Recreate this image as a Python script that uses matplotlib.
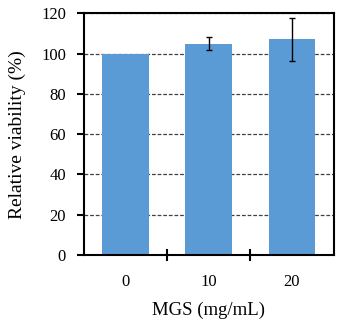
import matplotlib
matplotlib.use('Agg')
import matplotlib.pyplot as plt

plt.rcParams['font.family'] = ['Liberation Serif', 'DejaVu Serif']

categories = ['0', '10', '20']
viability = [100.0, 104.8, 107.2]
errors = [0.0, 3.2, 10.7]

fig = plt.figure(figsize=(3.38, 3.24), dpi=100)
ax = fig.add_axes([84 / 338, 1 - 255 / 324, 249.5 / 338, 241.7 / 324])

x = list(range(len(categories)))
ax.bar(x, viability, width=0.56, color='#5B9BD5', zorder=2)
ax.errorbar(x[1:], viability[1:], yerr=errors[1:], fmt='none', ecolor='black',
            elinewidth=1, capsize=2.5, capthick=1, zorder=3)

ax.set_xlim(-0.5, 2.5)
ax.set_ylim(0, 120)
ax.set_yticks(range(0, 121, 20))
ax.yaxis.grid(True, linestyle=(0, (3, 1.5)), color='#404040', linewidth=0.9, zorder=1)

ax.set_xticks(x)
ax.set_xticklabels(categories)
ax.tick_params(axis='x', length=0, labelsize=12, pad=14)
ax.set_xticks([0.5, 1.5], minor=True)
ax.tick_params(axis='x', which='minor', direction='inout', length=8, width=1.5)
ax.tick_params(axis='y', direction='out', length=5, width=1.5, labelsize=12, pad=8)

for s in ax.spines.values():
    s.set_linewidth(1.5)

ax.set_ylabel('Relative viability (%)', fontsize=14, labelpad=11)
ax.set_xlabel('MGS (mg/mL)', fontsize=13.5, labelpad=8)

fig.savefig('out.png', dpi=100)
